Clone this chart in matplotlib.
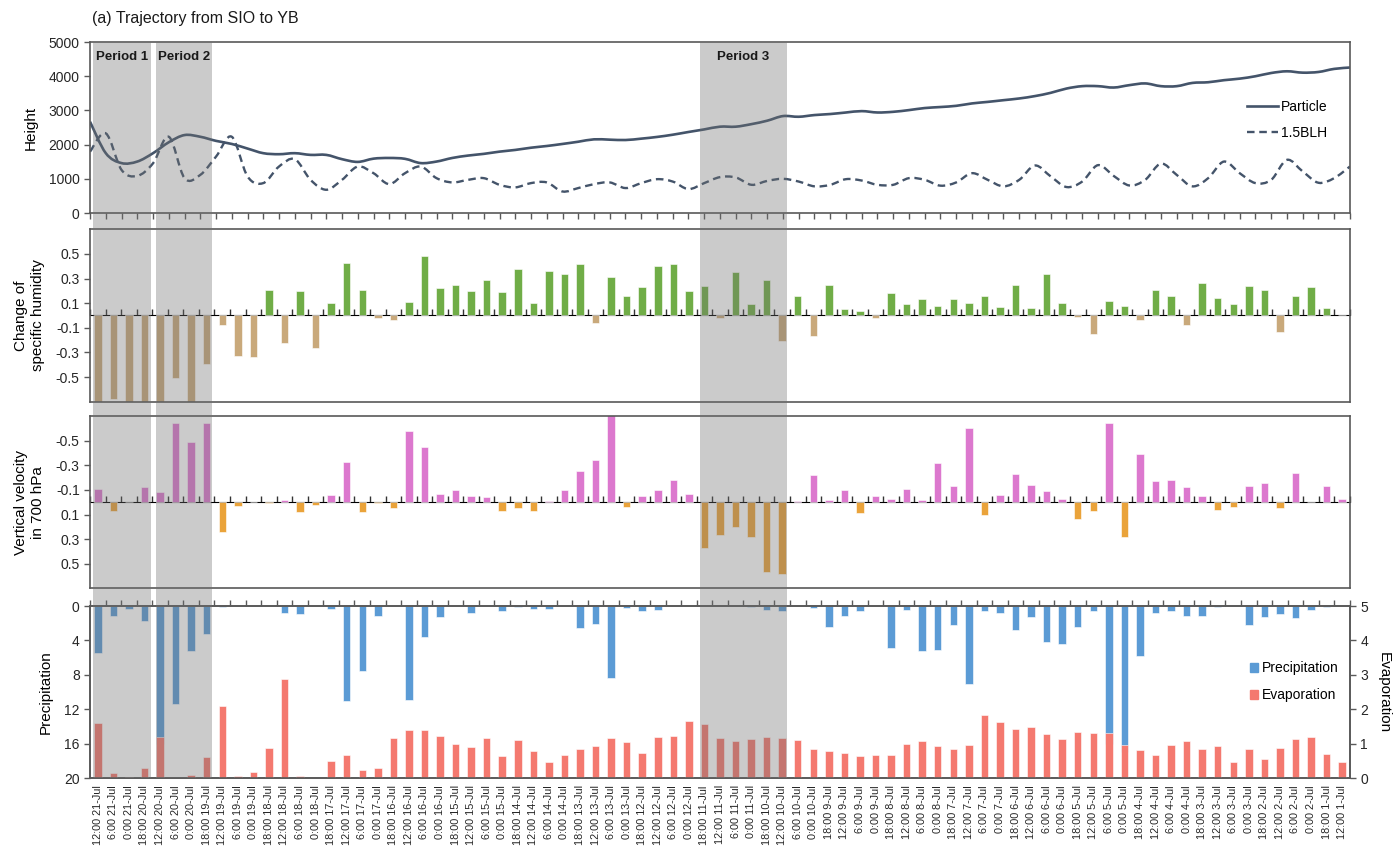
import matplotlib
matplotlib.use("Agg")
import matplotlib.pyplot as plt
import matplotlib.transforms as mtransforms
from matplotlib.patches import Rectangle, Patch, PathPatch
from matplotlib.lines import Line2D
from matplotlib.path import Path
import numpy as np
import pandas as pd

plt.rcParams['font.family'] = ['Liberation Sans', 'DejaVu Sans']
plt.rcParams['axes.unicode_minus'] = False

# 6-hourly steps, backwards in time from 21-Jul 12:00 to 1-Jul 12:00
times = pd.date_range('2016-07-01 12:00', '2016-07-21 12:00', freq='6h')[::-1]
time_labels = [f"{t.hour}:00 {t.day}-Jul" for t in times]

# particle height and 1.5 x boundary layer height (m)
particle = [2670, 1750, 1460, 1505, 1750, 2070, 2280, 2230, 2110, 2020,
            1885, 1750, 1720, 1750, 1700, 1700, 1575, 1495, 1590, 1610,
            1585, 1460, 1505, 1610, 1680, 1730, 1795, 1845, 1910, 1960,
            2020, 2085, 2155, 2145, 2135, 2175, 2225, 2290, 2370, 2445,
            2525, 2525, 2600, 2700, 2835, 2815, 2865, 2895, 2940, 2980,
            2940, 2960, 3010, 3070, 3100, 3135, 3205, 3250, 3300, 3350,
            3420, 3515, 3640, 3710, 3710, 3670, 3740, 3790, 3710, 3710,
            3805, 3825, 3885, 3930, 4000, 4095, 4145, 4105, 4125, 4215,
            4255]
blh15 = [1795, 2330, 1260, 1085, 1455, 2230, 1020, 1115, 1650, 2230,
         1070, 875, 1360, 1575, 970, 680, 970, 1360, 1165, 845,
         1165, 1360, 1020, 895, 970, 1020, 825, 750, 875, 895,
         630, 730, 845, 895, 730, 875, 990, 920, 700, 875,
         1050, 1040, 825, 940, 1000, 920, 780, 825, 990, 950,
         825, 825, 1020, 970, 800, 895, 1165, 970, 780, 970,
         1390, 1070, 760, 920, 1400, 1085, 805, 970, 1445, 1115,
         780, 1020, 1505, 1165, 875, 970, 1555, 1215, 885, 1020,
         1360]

# change of specific humidity
dq = [-0.80, -0.68, -0.80, -0.80, -0.80, -0.51, -0.80, -0.39, -0.08, -0.33,
      -0.34, 0.21, -0.22, 0.20, -0.26, 0.10, 0.43, 0.21, -0.02, -0.04,
      0.11, 0.48, 0.22, 0.25, 0.20, 0.29, 0.19, 0.38, 0.10, 0.36,
      0.34, 0.42, -0.06, 0.31, 0.16, 0.23, 0.40, 0.42, 0.20, 0.24,
      -0.02, 0.35, 0.09, 0.29, -0.21, 0.16, -0.17, 0.25, 0.05, 0.04,
      -0.02, 0.18, 0.09, 0.13, 0.08, 0.13, 0.10, 0.16, 0.07, 0.25,
      0.06, 0.34, 0.10, -0.01, -0.15, 0.12, 0.08, -0.04, 0.21, 0.16,
      -0.08, 0.26, 0.14, 0.09, 0.24, 0.21, -0.13, 0.16, 0.23, 0.06,
      0.0]

# vertical velocity at 700 hPa (negative = ascent)
omega = [-0.11, 0.07, 0.0, -0.12, -0.08, -0.64, -0.49, -0.64, 0.24, 0.03,
         0.0, 0.01, -0.02, 0.08, 0.02, -0.06, -0.33, 0.08, 0.01, 0.05,
         -0.58, -0.45, -0.07, -0.10, -0.05, -0.04, 0.07, 0.05, 0.07, -0.01,
         -0.10, -0.25, -0.34, -0.72, 0.04, -0.05, -0.10, -0.18, -0.07, 0.37,
         0.27, 0.20, 0.28, 0.57, 0.58, -0.01, -0.22, -0.02, -0.10, 0.09,
         -0.05, -0.03, -0.11, -0.02, -0.32, -0.13, -0.60, 0.10, -0.06, -0.23,
         -0.14, -0.09, -0.03, 0.14, 0.07, -0.64, 0.28, -0.39, -0.17, -0.18,
         -0.12, -0.05, 0.06, 0.04, -0.13, -0.16, 0.05, -0.24, 0.0, -0.13,
         -0.03]

precip = [5.5, 1.1, 0.4, 1.7, 16.0, 11.4, 5.2, 3.3, 0.15, 0.0,
          0.0, 0.0, 0.75, 0.95, 0.0, 0.35, 11.0, 7.5, 1.2, 0.0,
          10.9, 3.6, 1.3, 0.0, 0.85, 0.0, 0.6, 0.15, 0.4, 0.4,
          0.0, 2.5, 2.05, 8.3, 0.25, 0.6, 0.45, 0.0, 0.0, 0.0,
          0.0, 0.0, 0.15, 0.45, 0.6, 0.0, 0.2, 2.4, 1.1, 0.6,
          0.0, 4.9, 0.45, 5.25, 5.1, 2.2, 9.0, 0.6, 0.75, 2.8,
          1.3, 4.15, 4.35, 2.4, 0.6, 16.0, 17.0, 5.8, 0.75, 0.6,
          1.2, 1.2, 0.15, 0.0, 2.2, 1.3, 0.95, 1.35, 0.45, 0.15,
          0.0]
evap = [1.61, 0.14, 0.05, 0.31, 1.21, 0.01, 0.09, 0.63, 2.11, 0.07,
        0.19, 0.87, 2.89, 0.06, 0.01, 0.49, 0.67, 0.25, 0.31, 1.16,
        1.40, 1.40, 1.24, 1.00, 0.91, 1.18, 0.64, 1.11, 0.78, 0.47,
        0.68, 0.86, 0.93, 1.18, 1.05, 0.73, 1.20, 1.22, 1.65, 1.58,
        1.18, 1.09, 1.13, 1.20, 1.16, 1.10, 0.86, 0.79, 0.73, 0.66,
        0.68, 0.68, 0.99, 1.08, 0.93, 0.86, 0.96, 1.84, 1.64, 1.44,
        1.49, 1.28, 1.13, 1.33, 1.32, 1.32, 0.97, 0.82, 0.68, 0.96,
        1.09, 0.84, 0.93, 0.46, 0.86, 0.57, 0.89, 1.15, 1.19, 0.70,
        0.46]

# shaded periods, in category units
periods = [("Period 1", -0.3, 3.4), ("Period 2", 3.75, 7.35), ("Period 3", 38.7, 44.3)]

n = len(time_labels)
x = np.arange(n)
dq = np.array(dq)
omega = np.array(omega)

line_c = '#44546A'
spine_c = '#595959'
bw = 0.48


def smooth_path(xs, ys):
    # cubic Bezier through every point (Catmull-Rom style handles)
    pts = np.column_stack([xs, ys]).astype(float)
    verts, codes = [pts[0]], [Path.MOVETO]
    last = len(pts) - 1
    for i in range(last):
        p0, p1 = pts[max(i - 1, 0)], pts[i]
        p2, p3 = pts[i + 1], pts[min(i + 2, last)]
        verts += [p1 + (p2 - p0) / 6, p2 - (p3 - p1) / 6, p2]
        codes += [Path.CURVE4] * 3
    return Path(verts, codes)


fig = plt.figure(figsize=(13.96, 8.6), dpi=100)
L, W = 0.0645, 0.9025
ax1 = fig.add_axes([L, 0.7523, W, 0.1988])
ax2 = fig.add_axes([L, 0.5329, W, 0.2005])
ax3 = fig.add_axes([L, 0.3159, W, 0.2003])
ax4 = fig.add_axes([L, 0.0950, W, 0.2003])

for ax in (ax1, ax2, ax3, ax4):
    for s in ax.spines.values():
        s.set_color(spine_c)
        s.set_linewidth(1.2)
    ax.tick_params(axis='y', direction='out', length=4, width=1, color=spine_c,
                   labelsize=10, labelcolor='#262626')

# heights
solid_style = dict(color=line_c, lw=1.9)
dash_style = dict(color=line_c, lw=1.7, ls=(0, (3.2, 2)))
ax1.add_patch(PathPatch(smooth_path(x, particle), facecolor='none', edgecolor=line_c,
                        lw=solid_style['lw']))
ax1.add_patch(PathPatch(smooth_path(x, blh15), facecolor='none', edgecolor=line_c,
                        lw=dash_style['lw'], ls=dash_style['ls']))
ax1.set_xlim(0, n - 1)
ax1.set_ylim(0, 5000)
ax1.set_yticks(range(0, 5001, 1000))
ax1.set_xticks(x)
ax1.tick_params(axis='x', direction='out', length=4, width=1, color=spine_c, labelbottom=False)
ax1.set_ylabel('Height', fontsize=11, labelpad=8)
ax1.legend([Line2D([], [], **solid_style), Line2D([], [], **dash_style)],
           ['Particle', '1.5BLH'], loc='center left', bbox_to_anchor=(0.913, 0.545),
           frameon=False, fontsize=10, handlelength=2.2, handletextpad=0.25,
           labelspacing=0.85, borderpad=0)

bounds = np.arange(-0.5, n, 1.0)

# specific humidity change
ax2.bar(x, dq, width=bw, color=np.where(dq >= 0, '#70AD47', '#C9A97B'),
        edgecolor='white', linewidth=0.4)
ax2.set_ylim(-0.7, 0.7)
ax2.set_yticks([0.5, 0.3, 0.1, -0.1, -0.3, -0.5])
ax2.set_ylabel('Change of\nspecific humidity', fontsize=11, labelpad=8)

# vertical velocity
ax3.bar(x, omega, width=bw, color=np.where(omega <= 0, '#DC78CE', '#EAA33A'),
        edgecolor='white', linewidth=0.4)
ax3.set_ylim(0.7, -0.7)
ax3.set_yticks([-0.5, -0.3, -0.1, 0.1, 0.3, 0.5])
ax3.set_ylabel('Vertical velocity\nin 700 hPa', fontsize=11, labelpad=8)

for ax in (ax2, ax3):
    ax.set_xlim(-0.5, n - 0.5)
    ax.set_xticks([])
    # zero line carrying the category tick marks
    zero = ax.secondary_xaxis(0.5)
    zero.spines['bottom'].set_color('#333333')
    zero.spines['bottom'].set_linewidth(1.2)
    zero.set_xticks(bounds, labels=[''] * len(bounds))
    zero.tick_params(axis='x', direction='out', length=4, width=1, color='#333333')

# precipitation (inverted) and evaporation
ax4.bar(x, precip, width=bw, color='#5B9BD5', edgecolor='white', linewidth=0.4)
ax4.set_xlim(-0.5, n - 0.5)
ax4.set_ylim(20, 0)
ax4.set_yticks([0, 4, 8, 12, 16, 20])
ax4.set_ylabel('Precipitation', fontsize=11, labelpad=8)
ax4.set_xticks(x)
ax4.set_xticklabels(time_labels, rotation=90, fontsize=7.8, color='#262626')
ax4.set_xticks(bounds, minor=True)
ax4.tick_params(axis='x', which='major', length=0, pad=5)
ax4.tick_params(axis='x', which='minor', direction='out', length=4, width=1, color=spine_c,
                top=True, bottom=False)

ax4b = ax4.twinx()
ax4b.bar(x, evap, width=bw, color='#F4796F', edgecolor='white', linewidth=0.4)
ax4b.set_ylim(0, 5)
ax4b.set_yticks(range(0, 6))
ax4b.tick_params(axis='y', direction='out', length=4, width=1, color=spine_c,
                 labelsize=10, labelcolor='#262626')
for s in ax4b.spines.values():
    s.set_color(spine_c)
    s.set_linewidth(1.2)
ax4b.set_ylabel('Evaporation', fontsize=11, rotation=270, labelpad=16)

handles = [Patch(color='#5B9BD5'), Patch(color='#F4796F')]
ax4b.legend(handles, ['Precipitation', 'Evaporation'], loc='center left',
            bbox_to_anchor=(0.915, 0.56), frameon=False, fontsize=10,
            handlelength=0.6, handleheight=0.6, handletextpad=0.3,
            labelspacing=0.95, borderpad=0)

# grey period bands spanning all panels
band_tr = mtransforms.blended_transform_factory(ax4.transData, fig.transFigure)
y_top = 1 - 42 / 860
y_bot = 0.0950
for name, x0, x1 in periods:
    fig.patches.append(Rectangle((x0, y_bot), x1 - x0, y_top - y_bot, transform=band_tr,
                                 facecolor='#707070', alpha=0.36, edgecolor='none', zorder=5))
    fig.text((x0 + x1) / 2, 1 - 57 / 860, name, transform=band_tr, ha='center', va='center',
             fontsize=9.5, fontweight='bold', color='#1a1a1a', zorder=6)

fig.text(0.066, 1 - 18 / 860, '(a) Trajectory from SIO to YB', fontsize=11.5,
         va='center', ha='left', color='#1a1a1a')

fig.savefig('out.png', dpi=100)
